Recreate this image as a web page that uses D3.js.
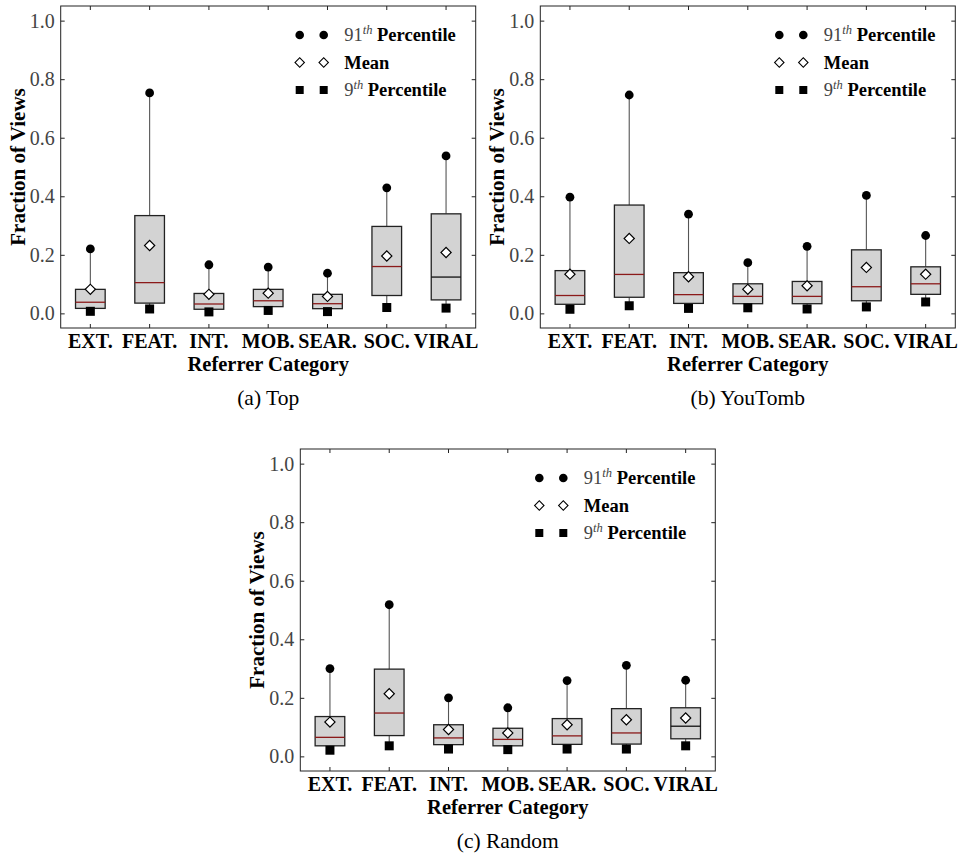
<!DOCTYPE html>
<html>
<head>
<meta charset="utf-8">
<script src="https://cdn.jsdelivr.net/npm/d3@7"></script>
<style>
  body { margin: 0; background: #fff; }
</style>
</head>
<body>
<svg width="959" height="860"></svg>
<script>
// categories and y ticks
const categories = ["EXT.", "FEAT.", "INT.", "MOB.", "SEAR.", "SOC.", "VIRAL"];
const yTicks = [0, 0.2, 0.4, 0.6, 0.8, 1.0];

// (a) Top
const topP91    = [0.220, 0.753, 0.166, 0.158, 0.137, 0.429, 0.538];
const topQ3     = [0.082, 0.334, 0.068, 0.082, 0.065, 0.297, 0.340];
const topMedian = [0.038, 0.105, 0.032, 0.043, 0.033, 0.160, 0.124];
const topQ1     = [0.017, 0.035, 0.014, 0.023, 0.016, 0.061, 0.046];
const topP9     = [0.007, 0.015, 0.005, 0.010, 0.006, 0.020, 0.018];
const topMean   = [0.082, 0.232, 0.065, 0.069, 0.058, 0.196, 0.208];

// (b) YouTomb
const ytP91    = [0.397, 0.746, 0.339, 0.173, 0.229, 0.403, 0.266];
const ytQ3     = [0.146, 0.370, 0.139, 0.101, 0.109, 0.217, 0.159];
const ytMedian = [0.061, 0.133, 0.064, 0.058, 0.058, 0.091, 0.101];
const ytQ1     = [0.031, 0.055, 0.034, 0.033, 0.033, 0.043, 0.065];
const ytP9     = [0.014, 0.026, 0.017, 0.019, 0.015, 0.022, 0.039];
const ytMean   = [0.134, 0.256, 0.125, 0.082, 0.094, 0.157, 0.134];

// (c) Random
const rndP91    = [0.300, 0.518, 0.200, 0.166, 0.259, 0.311, 0.260];
const rndQ3     = [0.136, 0.298, 0.108, 0.096, 0.129, 0.163, 0.166];
const rndMedian = [0.065, 0.148, 0.063, 0.058, 0.070, 0.080, 0.103];
const rndQ1     = [0.036, 0.071, 0.040, 0.036, 0.041, 0.042, 0.060];
const rndP9     = [0.021, 0.036, 0.025, 0.023, 0.025, 0.025, 0.036];
const rndMean   = [0.117, 0.214, 0.092, 0.080, 0.108, 0.125, 0.131];

const FONT = '"Liberation Serif", "Times New Roman", serif';
const svg = d3.select("svg");
const w = 415, h = 322;

// builds row objects for one panel
function rows(p91, q3, med, q1, p9, mean) {
    return categories.map((c, i) => ({cat: c, p91: p91[i], q3: q3[i], med: med[i], q1: q1[i], p9: p9[i], mean: mean[i]}));
}

const square = d3.symbol().type(d3.symbolSquare);

// adds "91^th Percentile" style legend text
function pctText(sel, num) {
    sel.append("tspan").attr("fill", "#444").text(num);
    sel.append("tspan").attr("fill", "#444").attr("font-size", 12.5).attr("font-style", "italic").attr("dy", -7).text("th");
    sel.append("tspan").attr("dy", 7).attr("font-weight", "bold").text(" Percentile");
}

function drawPanel(left, top, data, caption, blackMedian) {
    const g = svg.append("g").attr("transform", `translate(${left},${top})`);

    const x = d3.scaleBand().domain(categories).range([0, w]).padding(0);
    const y = d3.scaleLinear().domain([-0.05, 1.05]).range([h, 0]);
    const cx = d => x(d.cat) + x.bandwidth() / 2;
    const bw = x.bandwidth() * 0.5;

    // axes, ticks pointing in on all four sides
    const yAxis = g.append("g")
        .call(d3.axisLeft(y).tickValues(yTicks).tickFormat(d3.format(".1f")).tickSizeInner(-4).tickSizeOuter(0).tickPadding(6));
    g.append("g").attr("transform", `translate(${w},0)`)
        .call(d3.axisRight(y).tickValues(yTicks).tickFormat("").tickSizeInner(-4).tickSizeOuter(0));
    const xAxis = g.append("g").attr("transform", `translate(0,${h})`)
        .call(d3.axisBottom(x).tickSizeInner(-4).tickSizeOuter(0).tickPadding(5.5));
    g.append("g")
        .call(d3.axisTop(x).tickFormat("").tickSizeInner(-4).tickSizeOuter(0));
    g.selectAll(".domain").remove();
    g.selectAll(".tick line").attr("stroke", "#222");

    yAxis.selectAll("text").attr("font-size", 20).attr("fill", "#444").style("font-family", FONT);
    xAxis.selectAll("text").attr("font-size", 20).attr("fill", "#000").attr("font-weight", "bold").style("font-family", FONT);

    // whiskers
    g.selectAll(".whisk-up").data(data).join("line")
        .attr("x1", cx).attr("x2", cx)
        .attr("y1", d => y(d.q3)).attr("y2", d => y(d.p91))
        .attr("stroke", "#555").attr("stroke-width", 1.1);
    g.selectAll(".whisk-low").data(data).join("line")
        .attr("x1", cx).attr("x2", cx)
        .attr("y1", d => y(d.q1)).attr("y2", d => y(d.p9))
        .attr("stroke", "#555").attr("stroke-width", 1.1);

    // boxes
    g.selectAll(".box").data(data).join("rect")
        .attr("x", d => cx(d) - bw / 2).attr("width", bw)
        .attr("y", d => y(d.q3)).attr("height", d => y(d.q1) - y(d.q3))
        .attr("fill", "#d3d3d3").attr("stroke", "#222").attr("stroke-width", 1.3);

    // medians
    g.selectAll(".median").data(data).join("line")
        .attr("x1", d => cx(d) - bw / 2).attr("x2", d => cx(d) + bw / 2)
        .attr("y1", d => y(d.med)).attr("y2", d => y(d.med))
        .attr("stroke", d => blackMedian.includes(d.cat) ? "#111" : "#8b1a1a").attr("stroke-width", 1.3);

    // 91th percentile dots
    g.selectAll(".p91").data(data).join("circle")
        .attr("cx", cx).attr("cy", d => y(d.p91)).attr("r", 4.4).attr("fill", "#000");
    // 9th percentile squares
    g.selectAll(".p9").data(data).join("rect")
        .attr("x", d => cx(d) - 4.5).attr("y", d => y(d.p9) - 4.5)
        .attr("width", 9).attr("height", 9).attr("fill", "#000");
    // means
    g.selectAll(".mean").data(data).join("path")
        .attr("d", square.size(52)())
        .attr("transform", d => `translate(${cx(d)},${y(d.mean)}) rotate(45)`)
        .attr("fill", "#fff").attr("stroke", "#000").attr("stroke-width", 1.2);

    // frame
    g.append("rect").attr("width", w).attr("height", h)
        .attr("fill", "none").attr("stroke", "#222").attr("stroke-width", 1);

    // legend
    const leg = g.append("g").attr("transform", "translate(239,29)")
        .style("font-family", FONT);
    const rowsY = [0, 27.5, 55];
    [0, 24].forEach(dx => {
        leg.append("circle").attr("cx", dx).attr("cy", rowsY[0]).attr("r", 4.3).attr("fill", "#000");
        leg.append("path").attr("d", square.size(44)())
            .attr("transform", `translate(${dx},${rowsY[1]}) rotate(45)`)
            .attr("fill", "#fff").attr("stroke", "#000").attr("stroke-width", 1.1);
        leg.append("rect").attr("x", dx - 4).attr("y", rowsY[2] - 4).attr("width", 8).attr("height", 8).attr("fill", "#000");
    });
    leg.append("text").attr("x", 44.5).attr("y", rowsY[0] + 6).attr("font-size", 18.5)
        .call(pctText, "91");
    leg.append("text").attr("x", 44.5).attr("y", rowsY[1] + 6).attr("font-size", 18.5)
        .attr("font-weight", "bold").text("Mean");
    leg.append("text").attr("x", 44.5).attr("y", rowsY[2] + 6).attr("font-size", 18.5)
        .call(pctText, "9");

    // axis labels
    g.append("text")
        .attr("transform", `translate(${-36},${h / 2}) rotate(-90)`)
        .attr("text-anchor", "middle").attr("font-size", 21).attr("font-weight", "bold")
        .style("font-family", FONT)
        .text("Fraction of Views");
    g.append("text")
        .attr("x", w / 2).attr("y", h + 43)
        .attr("text-anchor", "middle").attr("font-size", 20.5).attr("font-weight", "bold")
        .style("font-family", FONT)
        .text("Referrer Category");

    // caption
    g.append("text")
        .attr("x", w / 2).attr("y", h + 77)
        .attr("text-anchor", "middle").attr("font-size", 21.5)
        .style("font-family", FONT)
        .text(caption);
}

drawPanel(60.7, 6, rows(topP91, topQ3, topMedian, topQ1, topP9, topMean), "(a) Top", ["VIRAL"]);
drawPanel(540.3, 6, rows(ytP91, ytQ3, ytMedian, ytQ1, ytP9, ytMean), "(b) YouTomb", []);
drawPanel(300.3, 449, rows(rndP91, rndQ3, rndMedian, rndQ1, rndP9, rndMean), "(c) Random", ["VIRAL"]);
</script>
</body>
</html>
